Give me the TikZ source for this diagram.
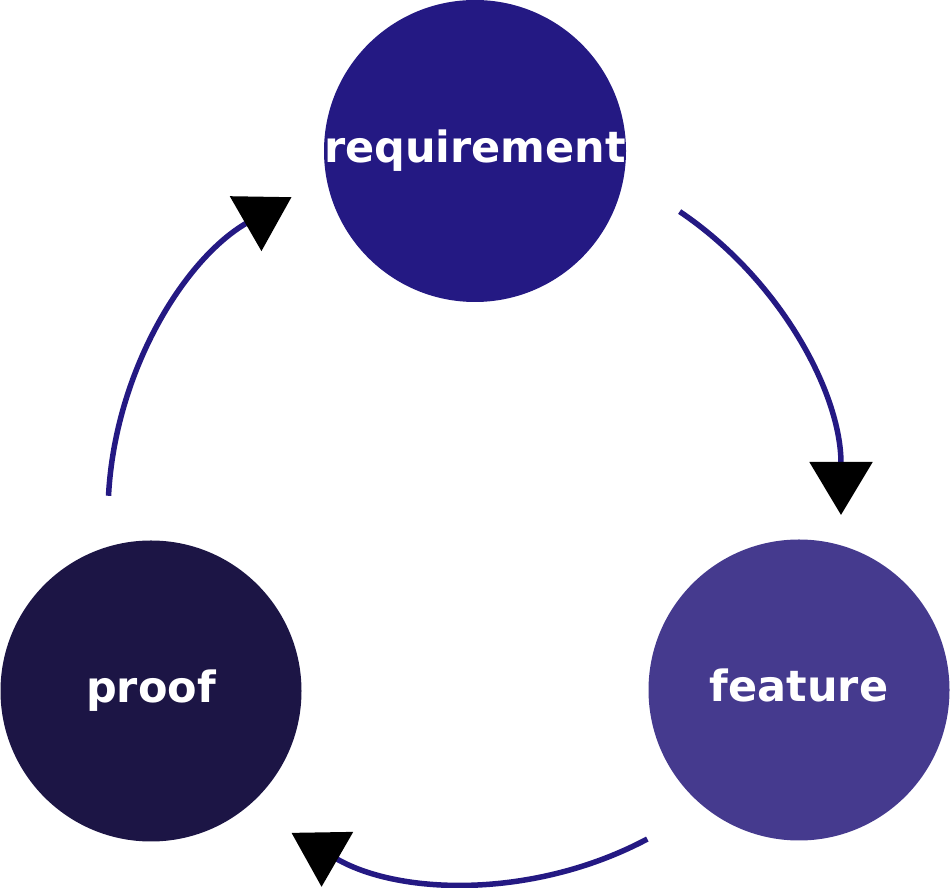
\documentclass[tikz,border=0pt]{standalone}
\usepackage{fontspec}
\setmainfont{DejaVu Sans}
\usetikzlibrary{arrows.meta}
\definecolor{reqcol}{HTML}{241983}
\definecolor{featcol}{HTML}{453A8E}
\definecolor{proofcol}{HTML}{1C1545}
\begin{document}
\begin{tikzpicture}[x=1pt,y=1pt,
  stage/.style={circle,inner sep=0pt,minimum size=301pt,text=white,
    font=\fontsize{43}{50}\selectfont\bfseries,text height=23pt,text depth=0pt},
  cyclearrow/.style={draw=reqcol,line width=5.5pt,
    -{Triangle[length=53pt,width=62pt,color=black]}}]
\useasboundingbox (0,0) rectangle (950,888);
\node[stage,fill=reqcol] (req) at (475,737) {requirement};
\node[stage,fill=featcol] (feat) at (799,198) {feature};
\node[stage,fill=proofcol] (proof) at (151,197) {proof};
\coordinate (O) at (475,373);
\draw[cyclearrow] (O) ++(56:366) arc[start angle=56,end angle=0,radius=366];
\draw[cyclearrow] (O) ++(-62:367) arc[start angle=-62,end angle=-120,radius=367];
\draw[cyclearrow] (O) ++(177:367) arc[start angle=177,end angle=120,radius=367];
\end{tikzpicture}
\end{document}
